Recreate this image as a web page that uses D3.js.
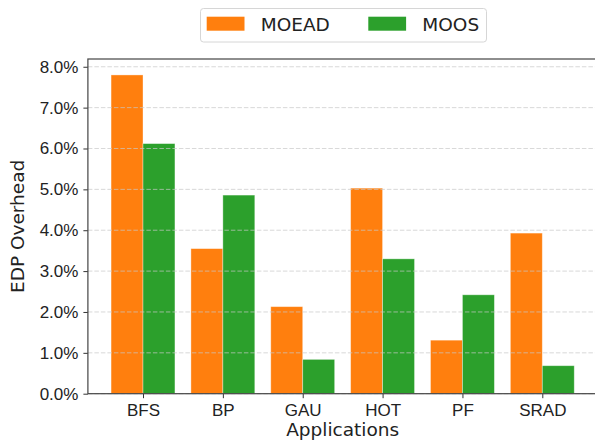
<!DOCTYPE html>
<html>
<head>
<meta charset="utf-8">
<script src="https://cdn.jsdelivr.net/npm/d3@7"></script>
<style>
  body { margin: 0; background: #fff; }
  svg { display: block; font-family: "DejaVu Sans", sans-serif; }
</style>
</head>
<body>
<div id="chart"></div>
<script>
// chart data
const apps = ["BFS", "BP", "GAU", "HOT", "PF", "SRAD"];
const seriesNames = ["MOEAD", "MOOS"];
const moead = [7.8, 3.55, 2.13, 5.03, 1.31, 3.93];
const moos = [6.12, 4.86, 0.84, 3.30, 2.42, 0.685];
const yTicks = [0, 1, 2, 3, 4, 5, 6, 7, 8];

const colors = {MOEAD: "#ff7f0e", MOOS: "#2ca02c"};
const W = 595, H = 443;
const barW = 0.4;

const svg = d3.select("#chart").append("svg")
    .attr("width", W)
    .attr("height", H);

svg.append("rect").attr("width", W).attr("height", H).attr("fill", "#fff");

// matplotlib style limits (5% margin on x)
let x = d3.scaleLinear().domain([-0.69, apps.length - 1 + 0.69]).range([87.9, 597.4]);
let y = d3.scaleLinear().domain([0, 8.19]).range([393.7, 59]);

// bars
let series = [moead, moos];
series.forEach(function(vals, s) {
    let off = s === 0 ? -barW / 2 : barW / 2;
    svg.append("g").selectAll("rect")
        .data(vals)
        .join("rect")
        .attr("x", (d, i) => x(i + off - barW / 2))
        .attr("width", (d, i) => x(i + off + barW / 2) - x(i + off - barW / 2))
        .attr("y", d => y(d))
        .attr("height", d => y(0) - y(d))
        .attr("fill", colors[seriesNames[s]])
        .attr("stroke", "rgba(255,255,255,0.45)")
        .attr("stroke-width", 0.8);
});

// gridlines (drawn over bars like the original)
svg.append("g").selectAll("line")
    .data(yTicks)
    .join("line")
    .attr("x1", x.range()[0])
    .attr("x2", x.range()[1])
    .attr("y1", d => y(d))
    .attr("y2", d => y(d))
    .attr("stroke", "#c8c8c8")
    .attr("stroke-opacity", 0.7)
    .attr("stroke-width", 1)
    .attr("stroke-dasharray", "4.5,2");

// axes
let yAxis = d3.axisLeft(y)
    .tickValues(yTicks)
    .tickFormat(d => d3.format(".1f")(d) + "%")
    .tickSize(4.5)
    .tickPadding(5);

let xAxis = d3.axisBottom(x)
    .tickValues(d3.range(apps.length))
    .tickFormat(i => apps[i])
    .tickSize(4.5)
    .tickPadding(6);

let gy = svg.append("g")
    .attr("transform", "translate(" + x.range()[0] + ",0)")
    .call(yAxis);
let gx = svg.append("g")
    .attr("transform", "translate(0," + y(0) + ")")
    .call(xAxis);

[gx, gy].forEach(function(g) {
    g.select(".domain").remove();
    g.selectAll(".tick line").attr("stroke", "#333").attr("stroke-width", 1);
    g.selectAll(".tick text").attr("fill", "#222").style("font-size", "17px");
});

// spines
let spine = svg.append("g").attr("stroke", "#444").attr("stroke-width", 1.2).attr("fill", "none");
spine.append("rect")
    .attr("x", x.range()[0])
    .attr("y", y.range()[1])
    .attr("width", x.range()[1] - x.range()[0])
    .attr("height", y.range()[0] - y.range()[1]);

// axis labels
svg.append("text")
    .attr("x", (x.range()[0] + x.range()[1]) / 2)
    .attr("y", 435.5)
    .attr("text-anchor", "middle")
    .attr("fill", "#222")
    .style("font-size", "18.5px")
    .text("Applications");

svg.append("text")
    .attr("transform", "translate(23.5," + (y.range()[0] + y.range()[1]) / 2 + ") rotate(-90)")
    .attr("text-anchor", "middle")
    .attr("fill", "#222")
    .style("font-size", "18.5px")
    .text("EDP Overhead");

// legend
let legend = svg.append("g");
legend.append("rect")
    .attr("x", 200.5)
    .attr("y", 8.5)
    .attr("width", 286)
    .attr("height", 33.5)
    .attr("rx", 3)
    .attr("fill", "#fff")
    .attr("stroke", "#d6d6d6")
    .attr("stroke-width", 1);

let legX = [206.7, 368.3];
seriesNames.forEach(function(name, i) {
    legend.append("rect")
        .attr("x", legX[i])
        .attr("y", 16.7)
        .attr("width", 37.8)
        .attr("height", 14)
        .attr("fill", colors[name]);
    legend.append("text")
        .attr("x", legX[i] + 54)
        .attr("y", 30.5)
        .attr("fill", "#222")
        .style("font-size", "18.5px")
        .text(name);
});
</script>
</body>
</html>
